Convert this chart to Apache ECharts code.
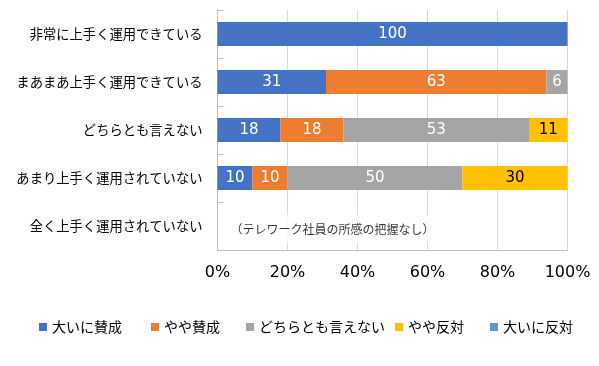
<!DOCTYPE html>
<html>
<head>
<meta charset="utf-8">
<script src="https://cdn.jsdelivr.net/npm/echarts@6/dist/echarts.min.js"></script>
<style>
html,body{margin:0;padding:0;background:#fff;}
#chart{width:599px;height:366px;}
</style>
</head>
<body>
<div id="chart"></div>
<script>
const categories = ['非常に上手く運用できている', 'まあまあ上手く運用できている', 'どちらとも言えない', 'あまり上手く運用されていない', '全く上手く運用されていない'];
const seriesNames = ['大いに賛成', 'やや賛成', 'どちらとも言えない', 'やや反対', '大いに反対'];
const stronglyAgree = [100, 31, 18, 10, null];
const somewhatAgree = [0, 63, 18, 10, null];
const neutral = [0, 6, 53, 50, null];
const somewhatDisagree = [0, 0, 11, 30, null];
const stronglyDisagree = [0, 0, 0, 0, null];
const xTicks = [0, 20, 40, 60, 80, 100];
const noteCategory = '全く上手く運用されていない';
const noteText = '（テレワーク社員の所感の把握なし）';

const seriesValues = [stronglyAgree, somewhatAgree, neutral, somewhatDisagree, stronglyDisagree];
const colors = ['#4472C4', '#ED7D31', '#A5A5A5', '#FFC000', '#5B9BD5'];
const labelColors = ['#ffffff', '#ffffff', '#ffffff', '#000000', '#ffffff'];
const legendLeft = [39, 151, 246, 395, 490];
const JP = '"Noto Sans CJK JP", sans-serif';
const NUM = '"DejaVu Sans", sans-serif';

const chart = echarts.init(document.getElementById('chart'));

const series = seriesNames.map((name, i) => ({
  name: name,
  type: 'bar',
  stack: 'total',
  barCategoryGap: '50%',
  data: seriesValues[i],
  itemStyle: { color: colors[i] },
  label: {
    show: true,
    position: 'inside',
    color: labelColors[i],
    fontFamily: NUM,
    fontSize: 15,
    formatter: p => (p.value > 0 ? String(p.value) : '')
  }
}));

series.push({
  name: 'note',
  type: 'scatter',
  symbolSize: 0,
  data: [[0, noteCategory]],
  silent: true,
  z: 5,
  label: {
    show: true,
    position: 'right',
    distance: 9,
    offset: [0, 3],
    formatter: noteText,
    fontFamily: JP,
    fontSize: 12,
    color: '#000',
    backgroundColor: '#ffffff',
    padding: [8, 4]
  }
});

const legends = seriesNames.map((name, i) => ({
  data: [{ name: name, icon: 'rect' }],
  left: legendLeft[i],
  top: 320,
  padding: 0,
  itemWidth: 8,
  itemHeight: 8,
  itemGap: 0,
  selectedMode: false,
  textStyle: { fontFamily: JP, fontSize: 14, color: '#000' }
}));

chart.setOption({
  animation: false,
  grid: { left: 217.5, right: 31.5, top: 10, bottom: 116, containLabel: false },
  legend: legends,
  xAxis: {
    type: 'value',
    min: xTicks[0],
    max: xTicks[xTicks.length - 1],
    interval: xTicks[1] - xTicks[0],
    axisLine: { show: true, lineStyle: { color: '#BFBFBF', width: 1 } },
    axisTick: { show: false },
    splitLine: { show: true, lineStyle: { color: '#D9D9D9', width: 1 } },
    axisLabel: { formatter: '{value}%', fontFamily: NUM, fontSize: 16, color: '#000', margin: 15 }
  },
  yAxis: {
    type: 'category',
    data: categories,
    inverse: true,
    axisLine: { show: true, lineStyle: { color: '#BFBFBF', width: 1 } },
    axisTick: { show: true, inside: true, length: 6, lineStyle: { color: '#BFBFBF' } },
    axisLabel: { fontFamily: JP, fontSize: 13.3, color: '#000', margin: 15 }
  },
  series: series
});
</script>
</body>
</html>
